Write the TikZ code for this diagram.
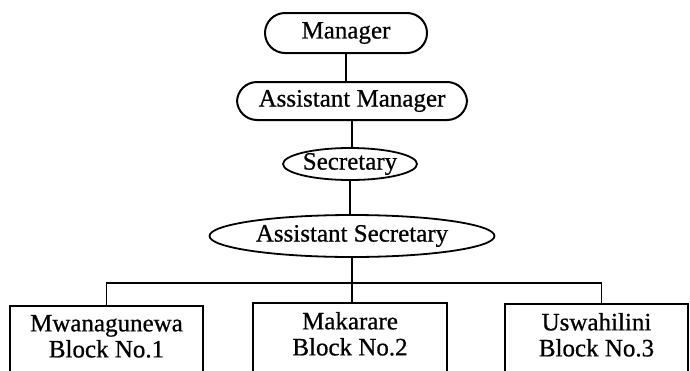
\documentclass[tikz,border=0pt]{standalone}
\usepackage{fontspec}
\setmainfont{Liberation Serif}
\newfontfamily\chartfont[FakeBold=0.7]{Liberation Serif}
\usetikzlibrary{shapes.geometric}
\begin{document}
\begin{tikzpicture}[x=1pt,y=-1pt,
  every node/.style={font=\chartfont\fontsize{25}{26}\selectfont, inner sep=0pt},
  rbox/.style={draw, line width=2pt, rectangle, rounded corners=20pt},
  ebox/.style={draw, line width=1.8pt, ellipse},
  bbox/.style={draw, line width=2pt, rectangle, anchor=north, align=center,
               inner ysep=9pt, text depth=24pt},
  link/.style={line width=2.4pt}]
\useasboundingbox (0,0) rectangle (690,370);
\clip (0,0) rectangle (690,370);

\node[rbox, minimum width=162pt, minimum height=40pt] (mgr) at (346,33) {Manager};
\node[rbox, minimum width=230pt, minimum height=38pt] (am) at (352,101) {Assistant Manager};
\node[ebox, minimum width=134pt, minimum height=32pt] (sec) at (350,164) {Secretary};
\node[ebox, minimum width=285pt, minimum height=42pt] (asec) at (352,236) {Assistant Secretary};

\node[bbox, minimum width=193pt] (b1) at (106.5,305) {Mwanagunewa\\Block No.1};
\node[bbox, minimum width=194pt] (b2) at (350,302) {Makarare\\Block No.2};
\node[bbox, minimum width=183pt] (b3) at (596.5,303) {Uswahilini\\Block No.3};

\coordinate (bar) at (0,283);
\coordinate (b3top) at ([xshift=5pt]b3.north);

\draw[link] (mgr.south) -- (mgr.south |- am.north);
\draw[link] (am.south) -- (am.south |- sec.north);
\draw[link] (sec.south) -- (sec.south |- asec.north);
\draw[link] (asec.south) -- (asec.south |- b2.north);
\draw[line width=1.6pt] (b1.north) -- (b1.north |- bar) -- (b3top |- bar) -- (b3top);
\end{tikzpicture}
\end{document}
